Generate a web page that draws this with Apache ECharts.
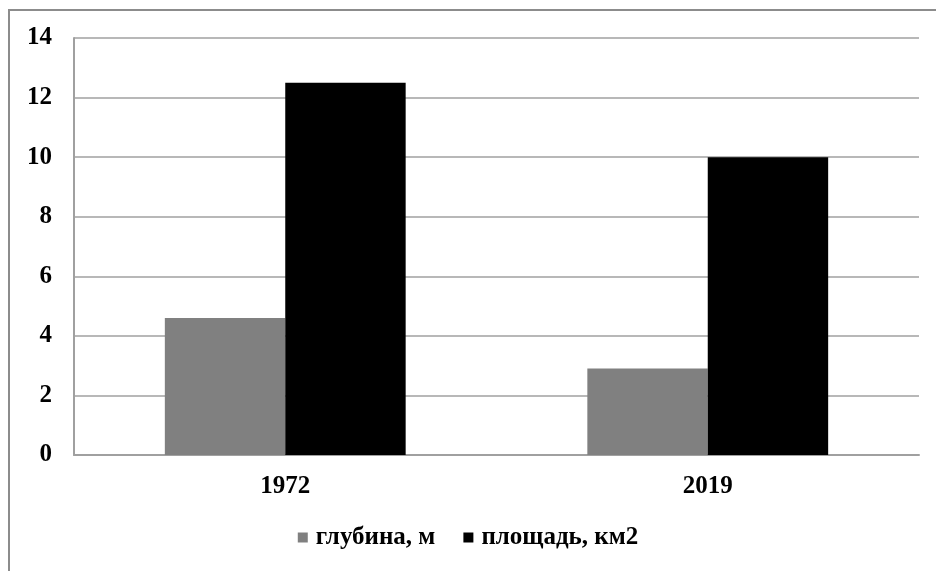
<!DOCTYPE html>
<html>
<head>
<meta charset="utf-8">
<script src="https://cdn.jsdelivr.net/npm/echarts@6/dist/echarts.min.js"></script>
<style>
  html, body { margin: 0; padding: 0; background: #fff; }
  #main { width: 936px; height: 571px; }
</style>
</head>
<body>
<div id="main"></div>
<script>
// данные диаграммы
const years = ['1972', '2019'];
const depth = [4.6, 2.9];      // глубина, м
const area = [12.5, 10];       // площадь, км2
const seriesNames = ['глубина, м', 'площадь, км2'];

const chart = echarts.init(document.getElementById('main'));
const font = '"Liberation Serif", "Times New Roman", serif';

const option = {
  animation: false,
  backgroundColor: '#fff',
  graphic: [{
    type: 'rect',
    shape: { x: 9, y: 10, width: 1000, height: 1000 },
    style: { fill: 'none', stroke: '#8c8c8c', lineWidth: 2 }
  }],
  grid: { left: 74, right: 17, top: 38, bottom: 116 },
  legend: {
    bottom: 16,
    left: 'center',
    itemWidth: 10,
    itemHeight: 10,
    itemGap: 28,
    icon: 'rect',
    textStyle: { fontFamily: font, fontWeight: 'bold', fontSize: 25, color: '#000', padding: [0, 0, 0, 3] },
    data: seriesNames
  },
  xAxis: {
    type: 'category',
    data: years,
    axisLine: { lineStyle: { color: '#a0a0a0', width: 2 } },
    axisTick: { show: false },
    axisLabel: { fontFamily: font, fontWeight: 'bold', fontSize: 25, color: '#000', margin: 19 }
  },
  yAxis: {
    type: 'value',
    min: 0,
    max: 14,
    interval: 2,
    axisLine: { show: true, lineStyle: { color: '#a0a0a0', width: 2 } },
    axisTick: { show: false },
    splitLine: { lineStyle: { color: '#a0a0a0', width: 1.5 } },
    axisLabel: { fontFamily: font, fontWeight: 'bold', fontSize: 25, color: '#000', margin: 22 }
  },
  series: [
    {
      name: seriesNames[0],
      type: 'bar',
      data: depth,
      barGap: '0%',
      barCategoryGap: '43%',
      itemStyle: { color: '#808080' }
    },
    {
      name: seriesNames[1],
      type: 'bar',
      data: area,
      itemStyle: { color: '#000000' }
    }
  ]
};

option && chart.setOption(option);
</script>
</body>
</html>
